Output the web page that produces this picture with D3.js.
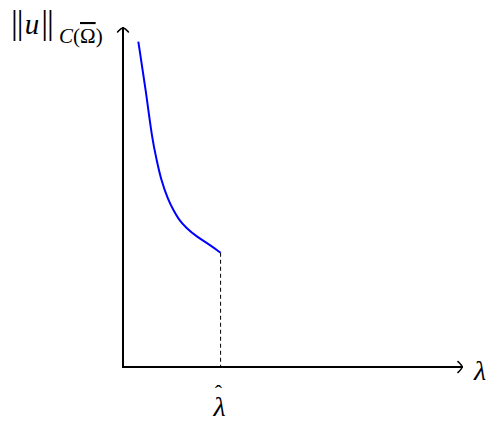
<!DOCTYPE html>
<html><head><meta charset="utf-8">
<script src="https://cdn.jsdelivr.net/npm/d3@7"></script>
<style>body{margin:0;background:#fff}svg{display:block}text{font-family:"Liberation Serif","DejaVu Serif",serif}</style>
</head><body><svg id="c" width="491" height="421"></svg>
<script>
const curveX = [0.45, 0.67, 0.86, 0.99, 1.12, 1.33, 1.48, 1.63, 1.86, 2.17, 2.56, 2.87];
const curveY = [9.57, 8.15, 6.68, 6.09, 5.50, 4.91, 4.62, 4.35, 4.09, 3.83, 3.59, 3.36];
const lambdaHat = 2.87;
const xLabel = "λ";

const svg = d3.select("#c");
const x = d3.scaleLinear().domain([0, 10]).range([123, 463]);
const y = d3.scaleLinear().domain([0, 10]).range([367, 27]);

function arrowHead(px, py, dir) {
  const s = 6;
  let pts;
  if (dir === "right") pts = [[px - s, py - s * 0.9], [px, py], [px - s, py + s * 0.9]];
  else pts = [[px - s * 0.9, py + s], [px, py], [px + s * 0.9, py + s]];
  svg.append("path").attr("d", d3.line().curve(d3.curveBasis)(pts))
    .attr("fill", "none").attr("stroke", "#000").attr("stroke-width", 1.6).attr("stroke-linecap", "round");
}

svg.append("line").attr("x1", x(0)).attr("y1", y(0)).attr("x2", x(10)).attr("y2", y(0))
  .attr("stroke", "#000").attr("stroke-width", 2);
svg.append("line").attr("x1", x(0)).attr("y1", y(0) + 1).attr("x2", x(0)).attr("y2", y(10))
  .attr("stroke", "#000").attr("stroke-width", 2);
arrowHead(x(10) + 1, y(0), "right");
arrowHead(x(0), y(10) - 1, "up");

svg.append("line").attr("x1", x(lambdaHat)).attr("x2", x(lambdaHat))
  .attr("y1", y(curveY[curveY.length - 1])).attr("y2", y(0))
  .attr("stroke", "#000").attr("stroke-width", 1).attr("stroke-dasharray", "4,3");

const pts = curveX.map((v, i) => [v, curveY[i]]);
svg.append("path").datum(pts)
  .attr("d", d3.line().x(d => x(d[0])).y(d => y(d[1])).curve(d3.curveBasis))
  .attr("fill", "none").attr("stroke", "#0000ff").attr("stroke-width", 2);

svg.append("text").attr("x", 474).attr("y", 380).attr("font-size", 28).attr("font-style", "italic").text(xLabel);

const hl = svg.append("text").attr("x", x(lambdaHat) - 7).attr("y", 416).attr("font-size", 28);
hl.append("tspan").attr("font-style", "italic").text("λ");
hl.append("tspan").attr("dx", -11).attr("dy", -16).attr("font-size", 22).text("ˆ");

const yl = svg.append("text").attr("x", 11).attr("y", 34).attr("font-size", 29);
yl.append("tspan").attr("font-size", 34).attr("letter-spacing", -1).text("||");
yl.append("tspan").attr("font-style", "italic").attr("dx", 2).text("u");
yl.append("tspan").attr("font-size", 34).attr("letter-spacing", -1).attr("dx", 2).text("||");
const sub = svg.append("text").attr("x", 59).attr("y", 43).attr("font-size", 21);
sub.append("tspan").attr("font-style", "italic").text("C");
sub.append("tspan").text("(");
sub.append("tspan").attr("text-decoration", "overline").text("Ω");
sub.append("tspan").text(")");
</script></body></html>
